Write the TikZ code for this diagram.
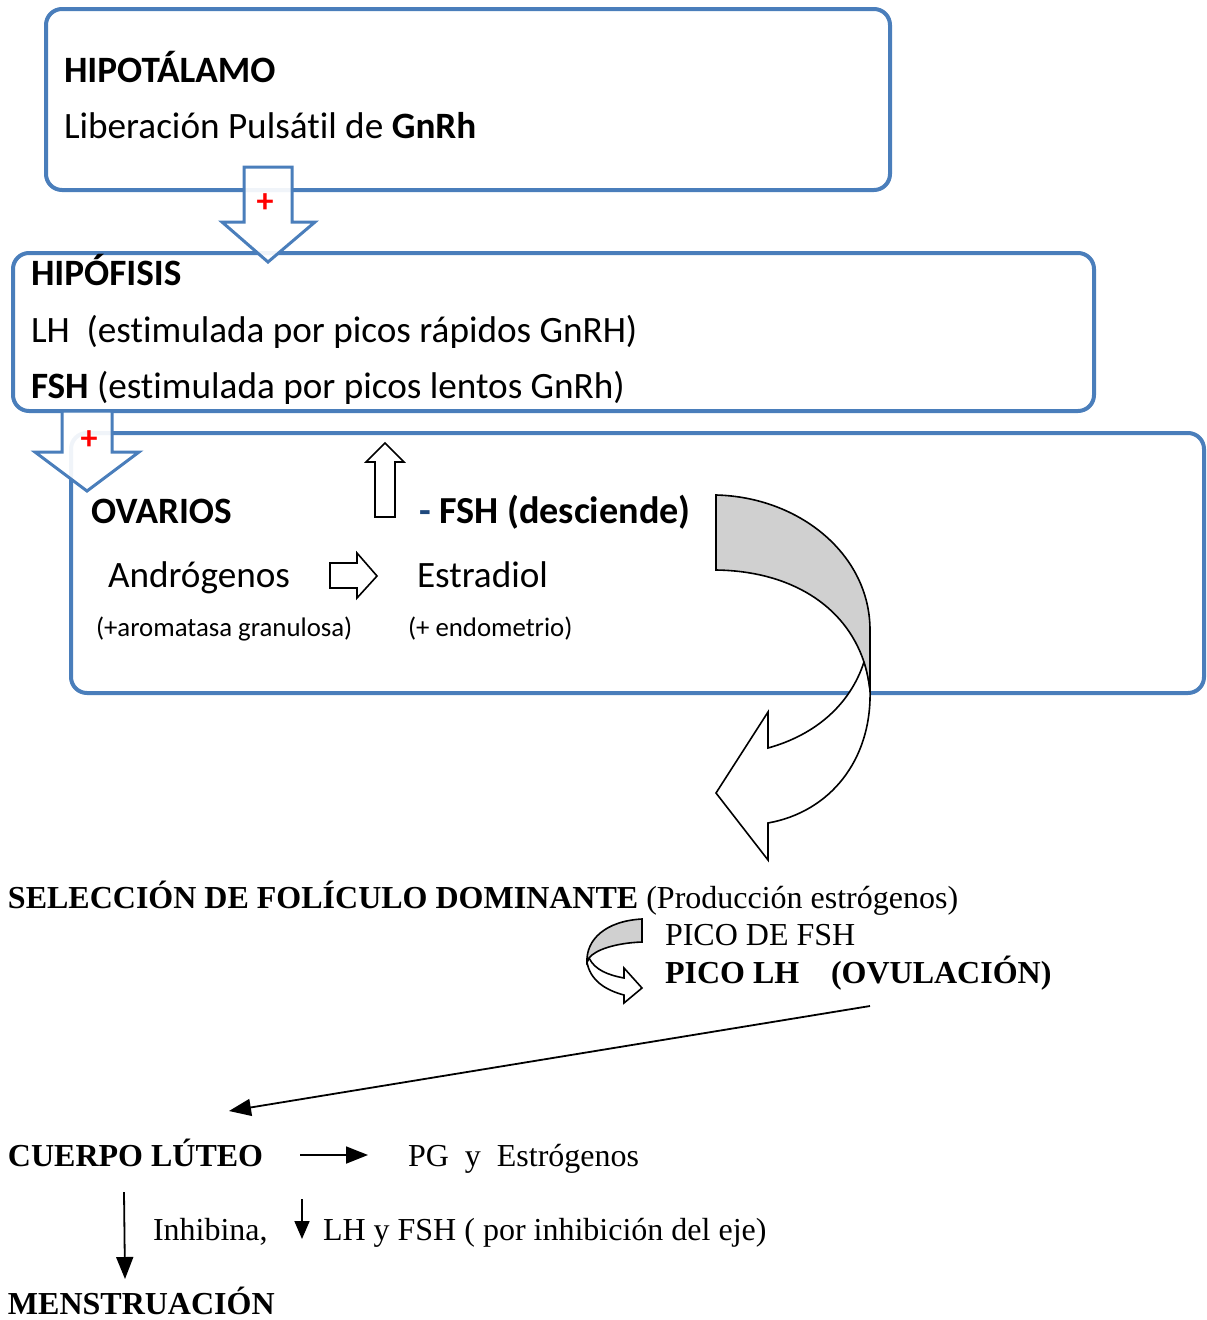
\documentclass[tikz,border=0pt]{standalone}
\usepackage{fontspec}
\setmainfont{Carlito}[Ligatures=NoCommon]
\newfontfamily\tms{Liberation Serif}
\usetikzlibrary{arrows.meta}
\definecolor{boxblue}{RGB}{74,126,187}
\definecolor{dashblue}{RGB}{31,73,125}
\definecolor{ribgray}{RGB}{208,208,208}
\begin{document}
\begin{tikzpicture}[x=1pt,y=-1pt,
  box/.style={draw=boxblue, line width=4pt, rounded corners=16pt},
  blockarrow/.style={draw=boxblue, line width=3pt, fill=white, fill opacity=0.92, line join=miter},
  outl/.style={draw=black, line width=1.6pt, fill=white, line join=miter},
  lbl/.style={anchor=base west, inner sep=0pt, outer sep=0pt},
  cal/.style={lbl, font=\fontsize{37.2}{40}\selectfont},
  calbig/.style={lbl, font=\fontsize{38.2}{40}\selectfont},
  calsm/.style={lbl, font=\fontsize{26.8}{30}\selectfont},
  tim/.style={lbl, font=\tms\fontsize{32}{36}\selectfont},
  plus/.style={anchor=center, inner sep=0pt, text=red, font=\bfseries\fontsize{34}{34}\selectfont},
  thinarrow/.style={draw=black, line width=1.8pt, -{Triangle[length=22pt,width=17pt]}}
]
\useasboundingbox (0,0) rectangle (1207,1320);

% boxes
\draw[box] (46,9) rectangle (890,190);
\draw[box] (13,253) rectangle (1094,411);
\draw[box] (71,433) rectangle (1204,693);

% block arrows
\draw[blockarrow] (244,167) -- (292,167) -- (292,222) -- (315,222) -- (268,262) -- (222,222) -- (244,222) -- cycle;
\node[plus] (p1) at (265,203) {+};
\draw[blockarrow] (62,411) -- (112,411) -- (112,452) -- (139,452) -- (87,491) -- (35,452) -- (62,452) -- cycle;
\node[plus] (p2) at (89,440) {+};

% box 1 text
\node[cal] (hipot) at (64,82) {\bfseries HIPOTÁLAMO};
\node[cal] (liber) at (64,138) {Liberación Pulsátil de \textbf{GnRh}};

% box 2 text
\node[cal] (hipof) at (31,285) {\bfseries HIPÓFISIS};
\node[cal] (lh) at (31,342) {LH\ \ (estimulada por picos rápidos GnRH)};
\node[cal] (fsh) at (31,398) {\textbf{FSH} (estimulada por picos lentos GnRh)};

% box 3 text
\node[cal] (ovar) at (91,523) {\bfseries OVARIOS};
\node[calbig] (fshd) at (419,523) {\textcolor{dashblue}{\textbf{-}} \textbf{FSH (desciende)}};
\node[cal] (andro) at (108,587) {Andrógenos};
\node[cal] (estra) at (417,587) {Estradiol};
\node[calsm] (arom) at (96,636) {(+aromatasa granulosa)};
\node[calsm] (endo) at (408,636) {(+ endometrio)};

% up outline arrow
\draw[outl] (375,517) -- (375,462) -- (366,462) -- (385,443) -- (404,462) -- (395,462) -- (395,517) -- cycle;
% right outline arrow
\draw[outl] (330,563) -- (357,563) -- (357,553) -- (377,576) -- (357,598) -- (357,588) -- (330,588) -- cycle;

% big curved ribbon arrow
\draw[outl] (864,662) .. controls (867,670) and (869,680) .. (870,690)
  .. controls (872,760) and (830,812) .. (768,823)
  -- (768,860) -- (716,793) -- (768,712) -- (768,748)
  .. controls (815,735) and (850,705) .. (864,662) -- cycle;
\draw[draw=black, line width=1.6pt, fill=ribgray, line join=miter] (716,495)
  .. controls (800,497) and (870,555) .. (870,630) -- (870,690)
  .. controls (868,676) and (866,668) .. (864,662)
  .. controls (845,605) and (790,571) .. (716,570) -- cycle;

% bottom texts
\node[tim] (selec) at (8,908) {\textbf{SELECCIÓN DE FOLÍCULO DOMINANTE} (Producción estrógenos)};
\node[tim] (picofsh) at (665,945) {PICO DE FSH};
\node[tim] (picolh) at (665,983) {\bfseries PICO LH};
\node[tim] (ovul) at (831,983) {\bfseries (OVULACIÓN)};

% small curved ribbon arrow
\draw[outl] (587,962) .. controls (590,980) and (605,990) .. (624,995)
  -- (624,1003) -- (642,988) -- (624,968) -- (624,978)
  .. controls (608,975) and (595,970) .. (589,958) -- cycle;
\draw[draw=black, line width=1.6pt, fill=ribgray, line join=miter] (642,919)
  .. controls (605,921) and (586,940) .. (587,962)
  -- (589,958) .. controls (595,950) and (615,943) .. (642,942) -- cycle;

\coordinate (lstart) at (870,1006);
\coordinate (lend) at (229,1111);
\draw[thinarrow] (lstart) -- (lend);

\node[tim] (cuerpo) at (8,1166) {\bfseries CUERPO LÚTEO};
\node[tim] (pg) at (408,1166) {PG\ \ y\ \ Estrógenos};
\coordinate (c1) at (300,1155);
\coordinate (c2) at (368,1155);
\draw[thinarrow] (c1) -- (c2);

\coordinate (m1) at (124,1192);
\coordinate (m2) at (125,1279);
\draw[thinarrow] (m1) -- (m2);

\node[tim] (inhib) at (153,1240) {Inhibina,};
\coordinate (d1) at (302,1199);
\coordinate (d2) at (302,1239);
\draw[draw=black, line width=1.8pt, -{Triangle[length=18pt,width=15pt]}] (d1) -- (d2);
\node[tim] (lhfsh) at (323,1240) {LH y FSH ( por inhibición del eje)};

\node[tim] (menst) at (8,1314) {\bfseries MENSTRUACIÓN};
\end{tikzpicture}
\end{document}
